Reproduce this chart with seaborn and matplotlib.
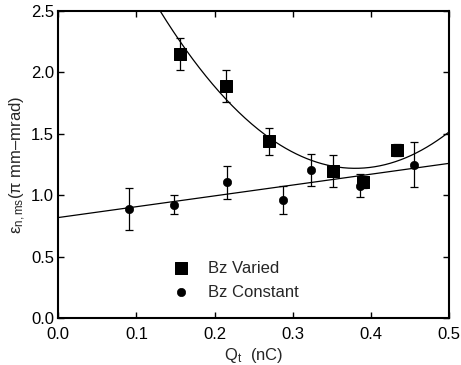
import numpy as np
import pandas as pd
import matplotlib
matplotlib.use('Agg')
import matplotlib.pyplot as plt
import seaborn as sns

# Bz varied (squares)
varied_q = [0.156, 0.215, 0.269, 0.352, 0.390, 0.433]
varied_emit = [2.15, 1.89, 1.44, 1.20, 1.11, 1.37]
varied_err = [0.13, 0.13, 0.11, 0.13, 0.05, 0.05]

# Bz constant (circles)
const_q = [0.090, 0.148, 0.216, 0.287, 0.323, 0.386, 0.455]
const_emit = [0.89, 0.925, 1.105, 0.96, 1.21, 1.08, 1.25]
const_err = [0.17, 0.075, 0.135, 0.115, 0.13, 0.09, 0.18]

# fit curves
quad_coef = [20.5, -15.58, 4.18]   # a*x^2 + b*x + c
lin_coef = [0.88, 0.82]

sns.set_style("ticks")
plt.rcParams['font.family'] = ['Liberation Sans', 'DejaVu Sans']
plt.rcParams['mathtext.fontset'] = 'custom'
plt.rcParams['mathtext.rm'] = 'Liberation Sans'
plt.rcParams['mathtext.it'] = 'Liberation Sans'

fig = plt.figure(figsize=(4.61, 3.65), dpi=100)
ax = fig.add_axes([0.1265, 0.1274, 0.8475, 0.8433])

xfit = np.linspace(0, 0.5, 300)
fits = pd.DataFrame({
    'q': xfit,
    'quad': np.polyval(quad_coef, xfit),
    'lin': np.polyval(lin_coef, xfit),
})
sns.lineplot(data=fits, x='q', y='quad', color='black', lw=0.9, ax=ax)
sns.lineplot(data=fits, x='q', y='lin', color='black', lw=0.9, ax=ax)

ax.errorbar(varied_q, varied_emit, yerr=varied_err, fmt='none', ecolor='black',
            elinewidth=0.9, capsize=3, capthick=0.9)
ax.errorbar(const_q, const_emit, yerr=const_err, fmt='none', ecolor='black',
            elinewidth=0.9, capsize=3, capthick=0.9)

sns.scatterplot(x=varied_q, y=varied_emit, marker='s', s=80, color='black',
                edgecolor='black', label='Bz Varied', ax=ax, zorder=3)
sns.scatterplot(x=const_q, y=const_emit, marker='o', s=36, color='black',
                edgecolor='black', label='Bz Constant', ax=ax, zorder=3)

ax.set_xlim(0, 0.5)
ax.set_ylim(0, 2.5)
ax.set_xticks([0.0, 0.1, 0.2, 0.3, 0.4, 0.5])
ax.set_yticks([0.0, 0.5, 1.0, 1.5, 2.0, 2.5])
ax.xaxis.set_major_formatter(matplotlib.ticker.FormatStrFormatter('%.1f'))
ax.yaxis.set_major_formatter(matplotlib.ticker.FormatStrFormatter('%.1f'))
ax.tick_params(direction='in', length=4, width=1, labelsize=12, colors='black',
               top=True, right=True)
ax.tick_params(axis='x', pad=6)
ax.tick_params(axis='y', pad=3)
for sp in ax.spines.values():
    sp.set_linewidth(1.5)
    sp.set_color('black')

ax.set_xlabel(r'Q$_{\rm t}$  (nC)', fontsize=12, labelpad=3)
ax.set_ylabel(r'ε$_{\rm n,ms}$(π mm–mrad)', fontsize=12, labelpad=2)

ax.legend(loc='lower left', bbox_to_anchor=(0.25, 0.034), frameon=False,
          fontsize=12, handletextpad=0.6, labelspacing=0.55, borderpad=0)

fig.savefig('out.png', dpi=100)
